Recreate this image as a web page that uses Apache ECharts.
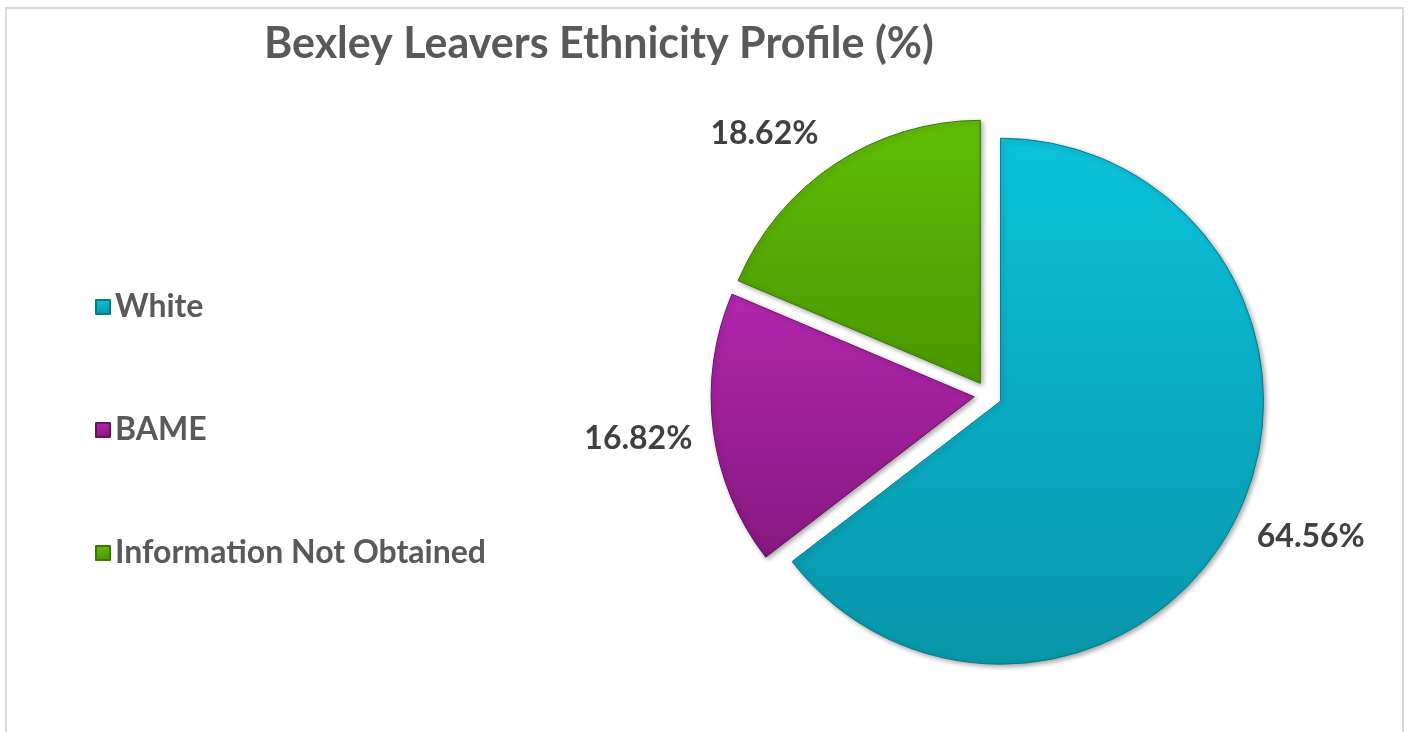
<!DOCTYPE html>
<html>
<head>
<meta charset="utf-8">
<script src="https://cdn.jsdelivr.net/npm/echarts@6/dist/echarts.min.js"></script>
<style>
html,body{margin:0;padding:0;background:#fff;}
#frame{position:absolute;left:5px;top:7px;width:1395px;height:740px;border:2px solid #d9d9d9;border-bottom:none;}
#chart{position:absolute;left:0;top:0;width:1410px;height:732px;}
</style>
</head>
<body>
<div id="frame"></div>
<div id="chart"></div>
<script>
const categories = ['White', 'BAME', 'Information Not Obtained'];
const values = [64.56, 16.82, 18.62];
const colorsTop = ['#0bc2dc', '#b226ae', '#60be06'];
const colorsBottom = ['#0895a8', '#86197f', '#4a9600'];
const borders = ['#067b8a', '#6a1166', '#387803'];
const labelLineLen = [17, 16, 21];
const labelSpacer = [24, 12, -26];
const titleText = 'Bexley Leavers Ethnicity Profile (%)';

const chart = echarts.init(document.getElementById('chart'));
const data = categories.map((c, i) => {
  const h = Math.abs(labelSpacer[i]);
  return {
    name: c,
    value: values[i],
    selected: true,
    label: {rich: {v: {fontFamily: 'Lato', fontWeight: 'bold', fontSize: 32, color: '#404040', lineHeight: 38}, s: {fontSize: 1, lineHeight: h, height: h}}},
    labelLine: {show: false, length: labelLineLen[i], length2: 0},
    itemStyle: {
      color: new echarts.graphic.LinearGradient(0, 0, 0, 1, [
        {offset: 0, color: colorsTop[i]},
        {offset: 1, color: colorsBottom[i]}
      ]),
      borderColor: borders[i],
      borderWidth: 1
    }
  };
});
chart.setOption({
  animation: false,
  title: {
    text: titleText,
    left: 259,
    top: 18,
    textStyle: {fontFamily: 'Lato', fontWeight: 'bold', fontSize: 43, color: '#595959'}
  },
  legend: {
    orient: 'vertical',
    left: 90,
    top: 284,
    icon: 'rect',
    itemWidth: 14,
    itemHeight: 14,
    itemGap: 87,
    selectedMode: false,
    data: categories,
    textStyle: {fontFamily: 'Lato', fontWeight: 'bold', fontSize: 32, color: '#595959', lineHeight: 36}
  },
  series: [{
    type: 'pie',
    center: [988, 395],
    radius: 263,
    startAngle: 90,
    clockwise: true,
    selectedMode: 'multiple',
    selectedOffset: 14,
    emphasis: {disabled: true},
    itemStyle: {shadowBlur: 5, shadowOffsetX: 2, shadowOffsetY: 2, shadowColor: 'rgba(0,0,0,0.35)'},
    label: {
      show: true,
      position: 'outside',
      formatter: p => {
        const t = '{v|' + p.value.toFixed(2) + '%}';
        return labelSpacer[p.dataIndex] > 0 ? '{s| }\n' + t : t + '\n{s| }';
      },
      fontFamily: 'Lato', fontWeight: 'bold', fontSize: 32, color: '#404040'
    },
    labelLine: {show: false, length: 26, length2: 0},
    data: data
  }]
});
</script>
</body>
</html>
